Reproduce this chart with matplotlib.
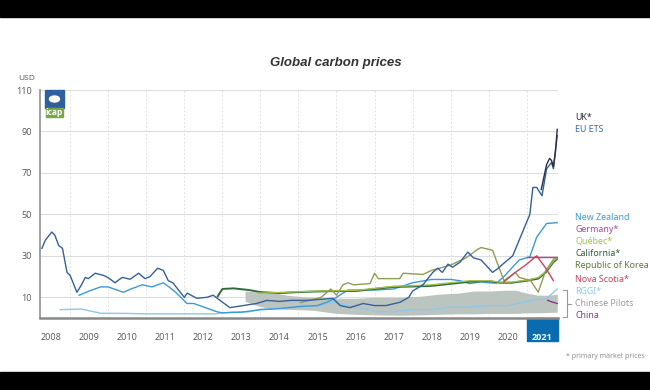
# Global carbon prices chart.

import matplotlib
matplotlib.use("Agg")
from matplotlib import pyplot as plt
from matplotlib.patches import Rectangle
from matplotlib.lines import Line2D

plt.rcParams["font.family"] = ["Open Sans", "DejaVu Sans"]

years = list(range(2008, 2022))
y_ticks = [10, 30, 50, 70, 90, 110]

eu_x = [2008.26, 2008.35, 2008.52, 2008.6, 2008.7, 2008.8, 2008.92, 2009.0, 2009.18,
        2009.3, 2009.4, 2009.48, 2009.66, 2009.87, 2010.0, 2010.18, 2010.37, 2010.58,
        2010.8, 2010.97, 2011.1, 2011.3, 2011.45, 2011.58, 2011.7, 2011.85, 2012.0,
        2012.08, 2012.33, 2012.6, 2012.76, 2012.94, 2013.2, 2013.55, 2013.9, 2014.17,
        2014.5, 2014.8, 2015.2, 2015.6, 2015.9, 2016.1, 2016.35, 2016.7, 2017.0,
        2017.3, 2017.67, 2017.9, 2018.0, 2018.27, 2018.53, 2018.66, 2018.78, 2018.93,
        2019.05, 2019.25, 2019.45, 2019.6, 2019.8, 2020.1, 2020.25, 2020.37, 2020.63,
        2020.9, 2021.08, 2021.16, 2021.26, 2021.4, 2021.52, 2021.65, 2021.7, 2021.8]
eu_v = [33.6, 37.5, 41.5, 40, 35, 33.6, 22, 20.6, 12.4,
        16, 19.6, 19, 21.6, 20.6, 19.5, 17, 19.6, 18.7,
        21.6, 19, 20, 24, 23, 18, 17, 13.5, 10,
        12, 9.5, 10, 11, 8.5, 5, 6, 7, 8.5,
        8, 8.5, 8.5, 9, 9.5, 6, 5, 7, 6,
        6, 7.6, 10, 13, 16, 22, 24, 22, 26,
        24.5, 27, 31.8, 29, 28, 22, 24, 26, 30,
        42, 50, 63, 63, 59, 72, 75, 72, 88]

uk_x = [2021.38, 2021.45, 2021.52, 2021.6, 2021.65, 2021.7, 2021.75, 2021.8]
uk_v = [62, 68, 74, 77, 76, 73, 80, 91]

nz_x = [2009.24, 2009.5, 2009.8, 2010.0, 2010.4, 2010.6, 2010.9, 2011.15, 2011.45,
        2011.6, 2011.8, 2012.07, 2012.25, 2012.6, 2012.86, 2013.0, 2013.5, 2014.0,
        2014.5, 2015.0, 2015.5, 2015.8, 2016.0, 2016.3, 2016.7, 2017.0, 2017.5,
        2018.0, 2018.5, 2019.0, 2019.24, 2019.5, 2019.8, 2020.0, 2020.2, 2020.4,
        2020.8, 2021.08, 2021.26, 2021.52, 2021.8]
nz_v = [11, 13, 15, 15, 12.4, 14, 16, 15, 17,
        15, 12, 7, 7, 4.7, 3, 2.5, 2.8, 4,
        4.5, 5.5, 6, 8, 10, 13.5, 13.5, 13.5, 14,
        17, 18.6, 18.6, 18, 16.6, 17.5, 17, 16.8, 20,
        28, 29.5, 39, 45.6, 46]

rggi_x = [2008.74, 2009.0, 2009.3, 2009.5, 2009.8, 2010.5, 2011.0, 2012.0, 2012.8,
          2013.2, 2013.7, 2014.0, 2014.5, 2015.0, 2015.5, 2015.9, 2016.3, 2016.7,
          2017.0, 2017.5, 2018.0, 2018.5, 2019.0, 2019.5, 2020.0, 2020.5, 2021.0,
          2021.3, 2021.5, 2021.8]
rggi_v = [4, 4.2, 4.3, 3.5, 2.3, 2.2, 2, 2, 2,
          2.8, 3, 4.2, 4.7, 5.5, 6, 7.5, 6, 4.5,
          3.2, 3, 4, 4, 5.3, 5.2, 6, 6, 8,
          9, 9, 14]

cal_x = [2012.88, 2013.0, 2013.3, 2013.7, 2014.0, 2014.5, 2015.0, 2015.5, 2016.0,
         2016.5, 2017.0, 2017.5, 2018.0, 2018.5, 2019.0, 2019.5, 2020.0, 2020.3,
         2020.6, 2021.0, 2021.3, 2021.5, 2021.7, 2021.8]
cal_v = [10.5, 14, 14.3, 13.5, 12.5, 12, 12.5, 12.8, 13,
         13, 14, 15, 15.2, 15.5, 16.5, 17.5, 17.8, 17,
         17, 18, 19, 22, 27, 28.5]

que_x = [2013.95, 2014.5, 2015.0, 2015.5, 2016.0, 2016.5, 2017.0, 2017.5, 2018.0,
         2018.5, 2019.0, 2019.5, 2020.0, 2020.3, 2020.6, 2021.0, 2021.3, 2021.5,
         2021.7, 2021.8]
que_v = [12, 12.3, 12.7, 13, 13.2, 13.3, 14.3, 15.3, 15.6,
         16, 17, 18, 18, 17.3, 17.3, 18.3, 19.5, 22.5, 27.5, 29]

kor_x = [2015.05, 2015.3, 2015.6, 2015.85, 2016.0, 2016.17, 2016.3, 2016.45, 2016.88,
         2017.0, 2017.1, 2017.66, 2017.75, 2018.27, 2018.5, 2019.0, 2019.4, 2019.7,
         2019.8, 2020.1, 2020.4, 2020.7, 2020.8, 2021.1, 2021.3, 2021.5, 2021.73]
kor_v = [7.5, 8.5, 10, 14, 11, 16, 17, 16, 16.6,
         21.6, 19, 19, 21.6, 21, 23, 25.5, 29, 33,
         34, 32.7, 18, 22, 19.6, 18, 12.5, 23, 29]

ns_x = [2020.4, 2020.7, 2021.0, 2021.26, 2021.5, 2021.7]
ns_v = [17.5, 22, 26, 30, 24, 18]

de_x = [2021.0, 2021.8]
de_v = [29.5, 29.5]

cn_x = [2021.55, 2021.65, 2021.8]
cn_v = [8.5, 7.8, 7]

pil_x = [2013.6, 2014.0, 2014.25, 2014.7, 2015.0, 2015.4, 2016.0, 2016.5, 2017.0,
         2017.67, 2018.2, 2018.7, 2019.2, 2019.6, 2020.0, 2020.4, 2020.7, 2021.0,
         2021.3, 2021.6, 2021.8]
pil_lo = [8, 5.5, 4.7, 4.2, 4, 3.7, 2.2, 1.8, 1.5,
          1.3, 1.5, 1.8, 2, 2, 2.2, 2.2, 2.2, 2.5,
          2.5, 2.7, 2.8]
pil_hi = [13, 12.4, 12.4, 11, 10.5, 10, 9.5, 9.5, 10,
          10, 10.5, 11.5, 12, 13, 13, 13.4, 13.4, 12,
          11, 11, 11.5]

labels = ["UK*", "EU ETS", "New Zealand", "Germany*", "Québec*", "California*",
          "Republic of Korea", "Nova Scotia*", "RGGI*", "Chinese Pilots", "China"]
label_y = [117, 130, 217, 229, 241, 254, 266, 279, 291, 304, 316]
label_colors = ["#2b2b3b", "#2e6fb7", "#3a9ad9", "#a8479c", "#a5c14a", "#2f5d3b",
                "#5e7a3a", "#d1405e", "#8cc8ea", "#9a9a9a", "#7d3c8c"]

W, H = 650, 390
fig = plt.figure(figsize=(6.5, 3.9), dpi=100)
ax = fig.add_axes([40 / W, 1 - 318 / H, 518 / W, 228 / H])

ax.fill_between(pil_x, pil_lo, pil_hi, color="#bcc4bf", lw=0, zorder=1)
ax.plot(rggi_x, rggi_v, color="#8cc8ea", lw=1.0, zorder=2)
ax.plot(nz_x, nz_v, color="#3a9ad9", lw=1.0, zorder=3)
ax.plot(cal_x, cal_v, color="#2f6b3f", lw=1.4, zorder=3)
ax.plot(que_x, que_v, color="#a5c14a", lw=1.0, zorder=3)
ax.plot(kor_x, kor_v, color="#8f9d55", lw=1.0, zorder=3)
ax.plot(de_x, de_v, color="#a8479c", lw=1.0, zorder=3)
ax.plot(ns_x, ns_v, color="#d1405e", lw=1.0, zorder=3)
ax.plot(cn_x, cn_v, color="#7d3c8c", lw=1.0, zorder=4)
ax.plot(eu_x, eu_v, color="#35609a", lw=1.0, zorder=4)
ax.plot(uk_x, uk_v, color="#2b2d45", lw=1.0, zorder=5)

ax.set_xlim(2008.21, 2021.82)
ax.set_ylim(0, 110)
ax.set_yticks(y_ticks)
ax.set_yticklabels([str(v) for v in y_ticks], fontsize=6.5, color="#555555")
ax.set_xticks([y + 0.5 for y in years[:-1]] + [2021.41])
ax.set_xticklabels([str(y) for y in years], fontsize=6.5, color="#555555")
ax.tick_params(length=0)
ax.tick_params(axis="x", pad=11)
ax.tick_params(axis="y", pad=6)
xl = ax.get_xticklabels()[-1]
xl.set_color("white")
xl.set_fontweight("bold")

for v in y_ticks:
    ax.axhline(v, color="#dddddd", lw=0.8, zorder=0)
for y in years[1:]:
    ax.axvline(y, color="#e2e2e2", lw=0.7, ls=(0, (2, 2)), zorder=0)

for side in ["top", "right"]:
    ax.spines[side].set_visible(False)
ax.spines["left"].set_color("#999999")
ax.spines["left"].set_linewidth(1.3)
ax.spines["bottom"].set_color("#888888")
ax.spines["bottom"].set_linewidth(1.8)

ax.add_patch(Rectangle((2021.0, -23 / 228), 0.82, 23 / 228, transform=ax.get_xaxis_transform(),
                       clip_on=False, color="#0a6cb0", zorder=0))

# black bands top and bottom
fig.add_artist(Rectangle((0, 1 - 17 / H), 1, 17 / H, transform=fig.transFigure, color="black"))
fig.add_artist(Rectangle((0, 0), 1, 18 / H, transform=fig.transFigure, color="black"))

fig.text(336 / W, 1 - 63 / H, "Global carbon prices", fontsize=9.5, fontstyle="italic",
         fontweight="bold", color="#333333", ha="center", va="center",
         family=["Liberation Sans", "DejaVu Sans"])
fig.text(27 / W, 1 - 78 / H, "USD", fontsize=6, color="#555555", ha="center", va="center")

# icap logo
fig.add_artist(Rectangle((45 / W, 1 - 108 / H), 19 / W, 18 / H, transform=fig.transFigure,
                         color="#2f5f9e"))
fig.add_artist(Rectangle((46 / W, 1 - 117 / H), 17 / W, 9 / H, transform=fig.transFigure,
                         color="#7aa64a"))
fig.add_artist(plt.Circle((54.5 / W, 1 - 99 / H), 5 / W, transform=fig.transFigure,
                          color="white"))
fig.text(54.5 / W, 1 - 112.5 / H, "icap", fontsize=6, fontweight="bold", color="white",
         ha="center", va="center")

for lab, ly, c in zip(labels, label_y, label_colors):
    fig.text(575 / W, 1 - ly / H, lab, fontsize=6.4, color=c, ha="left", va="center",
             family=["Noto Sans", "DejaVu Sans"])

# bracket for Chinese pilots
bx = [563 / W, 567 / W, 567 / W, 563 / W]
by = [1 - 290 / H, 1 - 290 / H, 1 - 317 / H, 1 - 317 / H]
fig.add_artist(Line2D(bx, by, transform=fig.transFigure, color="#999999", lw=0.8))
fig.add_artist(Line2D([567 / W, 571 / W], [1 - 304 / H, 1 - 304 / H],
                      transform=fig.transFigure, color="#999999", lw=0.8))

fig.text(645 / W, 1 - 356 / H, "* primary market prices", fontsize=5, color="#888888",
         ha="right", va="center")

fig.savefig("out.png", dpi=100)
